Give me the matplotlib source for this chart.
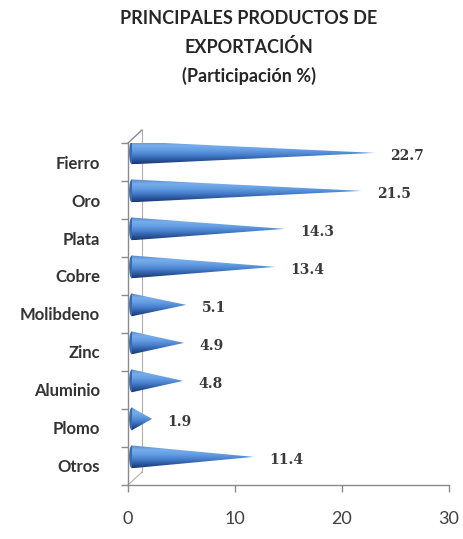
import numpy as np
import matplotlib
matplotlib.use("Agg")
import matplotlib.pyplot as plt
from matplotlib.patches import Polygon, Ellipse
from matplotlib.lines import Line2D

categories = ["Fierro", "Oro", "Plata", "Cobre", "Molibdeno", "Zinc", "Aluminio", "Plomo", "Otros"]
values = [22.7, 21.5, 14.3, 13.4, 5.1, 4.9, 4.8, 1.9, 11.4]
value_labels = ["22.7", "21.5", "14.3", "13.4", "5.1", "4.9", "4.8", "1.9", "11.4"]
xticks = [0, 10, 20, 30]
title_lines = ["PRINCIPALES PRODUCTOS DE", "EXPORTACIÓN", "(Participación %)"]

# style
DX = 0.35      # 3D depth shift in x (data units)
DY = 0.24      # 3D depth shift in y (category units)
HALF = 0.30    # cone half-height (category units)
SANS = ["Lato", "DejaVu Sans"]

fig = plt.figure(figsize=(4.64, 5.39), dpi=100)
ax = fig.add_axes([128/464, 1-485/539, (449-128)/464, (485-143)/539])

n = len(categories)
ypos = np.arange(n)
ax.set_xlim(0, 30)
ax.set_ylim(n - 0.5, -0.5)

# gradient colours (top -> bottom of cone)
stops = np.array([
    [0.33, 0.53, 0.80],
    [0.47, 0.68, 0.92],
    [0.40, 0.62, 0.89],
    [0.29, 0.51, 0.81],
    [0.18, 0.36, 0.64],
    [0.10, 0.22, 0.45],
])
N = 64
t = np.linspace(0, 1, N)
pos = np.linspace(0, 1, len(stops))
grad = np.stack([np.interp(t, pos, stops[:, c]) for c in range(3)], axis=-1)
grad = grad[:, None, :]

for y, v, lab in zip(ypos, values, value_labels):
    yc = y - DY
    x0 = DX
    x1 = v + DX
    # base ellipse
    ell = Ellipse((x0, yc), width=0.5, height=2*HALF, facecolor="#3a6aae",
                  edgecolor="none", zorder=2)
    ax.add_patch(ell)
    poly = Polygon([(x0, yc - HALF), (x1, yc), (x0, yc + HALF)], closed=True,
                   facecolor="none", edgecolor="none", zorder=3)
    ax.add_patch(poly)
    im = ax.imshow(grad, extent=(x0, x1, yc - HALF, yc + HALF), origin="lower",
                   aspect="auto", zorder=3, interpolation="bilinear")
    im.set_clip_path(poly)
    ax.annotate(lab, xy=(x1, yc), xytext=(11, -2), textcoords="offset points",
                ha="left", va="center", fontsize=10, fontweight="bold",
                family=["DejaVu Serif"], color="#3a3a3a")

# axes styling
for s in ["top", "right"]:
    ax.spines[s].set_visible(False)
for s in ["left", "bottom"]:
    ax.spines[s].set_color("#8a8a8a")
    ax.spines[s].set_linewidth(1.0)

ax.set_xticks(xticks)
ax.set_xticklabels([str(x) for x in xticks], fontsize=13, color="#404040", family=SANS)
ax.tick_params(axis="x", length=5, width=1, color="#8a8a8a", pad=14)

ax.set_yticks(np.arange(n + 1) - 0.5)
ax.set_yticklabels([])
ax.tick_params(axis="y", which="major", length=5, width=1, color="#8a8a8a")
ax.set_yticks(ypos, minor=True)
ax.set_yticklabels(categories, minor=True, fontsize=12, fontweight="bold",
                   color="#333333", family=SANS)
ax.tick_params(axis="y", which="minor", length=0, pad=20)

# 3D back wall hints
wall_x = 14 / (449 - 128)
wall_y = 13 / (485 - 143)
ax.add_line(Line2D([wall_x, wall_x], [wall_y, 1 + wall_y], transform=ax.transAxes,
                   color="#b0b0b0", lw=0.8, clip_on=False, zorder=1))
ax.add_line(Line2D([0, wall_x], [1, 1 + wall_y], transform=ax.transAxes,
                   color="#8a8a8a", lw=1.0, clip_on=False, zorder=1))
ax.add_line(Line2D([0, wall_x], [0, wall_y], transform=ax.transAxes,
                   color="#b0b0b0", lw=0.8, clip_on=False, zorder=1))

# title
ty = [18, 47, 76]
for line, yy in zip(title_lines, ty):
    fig.text(249/464, 1 - yy/539, line, ha="center", va="center", fontsize=13,
             fontweight="bold", color="#262626", family=SANS)

fig.savefig("out.png", dpi=100)
